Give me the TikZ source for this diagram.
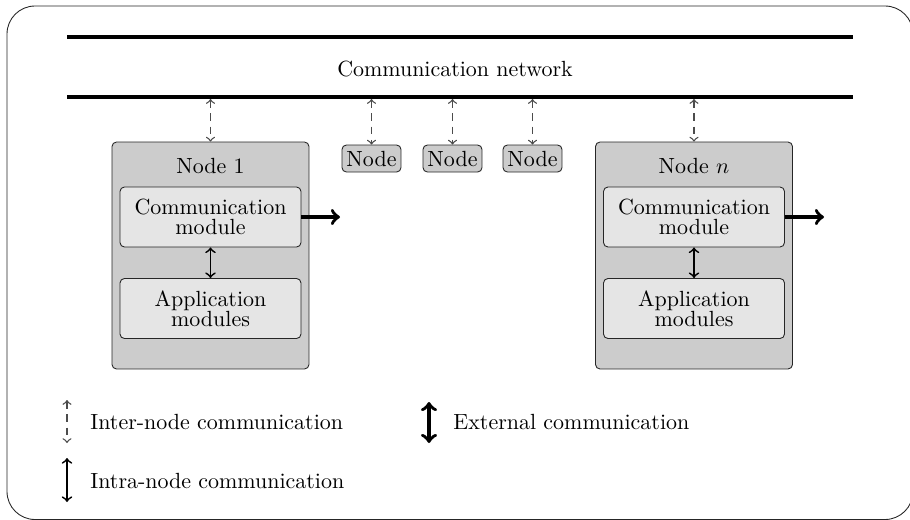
\documentclass[tikz,border=0pt]{standalone}
\usepackage{amsmath}
\usetikzlibrary{positioning}

\tikzset{
  hostbox/.style={draw=black!85, fill=black!20, rounded corners=2pt,
    minimum width=3.152cm, minimum height=3.632cm},
  modbox/.style={draw=black!85, fill=black!10, rounded corners=2pt, align=center,
    inner sep=1pt, minimum width=2.896cm, minimum height=0.96cm},
  peerbox/.style={draw=black!85, fill=black!20, rounded corners=2pt,
    inner sep=1pt, minimum width=0.944cm, minimum height=0.432cm},
  interlink/.style={<->, semithick, dash pattern=on 3.5pt off 2.5pt, black!70},
  intralink/.style={<->, thick},
  extlink/.style={->, ultra thick},
  bus/.style={line width=1.8pt},
}

\begin{document}
\begin{tikzpicture}[x=0.016cm, y=-0.016cm]
\useasboundingbox (0,0) rectangle (910,519);
\draw[black!85, rounded corners=12.75pt] (7,6) rectangle (913,519.5);

% network
\coordinate (busTL) at (67,37);
\coordinate (busTR) at (853,37);
\coordinate (busBL) at (67,97);
\coordinate (busBR) at (853,97);
\coordinate (busB) at (67,99);
\draw[bus] (busTL) -- (busTR);
\draw[bus] (busBL) -- (busBR);
\node (net) at (455,69) {Communication network};

% node 1
\node[hostbox] (host1) at (210.5,255.5) {};
\node (host1lbl) at (210.5,166) {Node 1};
\node[modbox] (comm1) at (210.5,217) {Communication\\[-3pt]module};
\node[modbox] (app1) at (210.5,308.5) {Application\\[-3pt]modules};
\coordinate (out1) at (340,217);
\draw[intralink] (comm1) -- (app1);
\draw[extlink] (comm1.east) -- (out1);
\draw[interlink] (busB -| host1.north) -- (host1.north);

% other nodes
\foreach \name/\x in {peerA/371.5, peerB/452.5, peerC/532.5} {
  \node[peerbox] (\name) at (\x,158.5) {Node};
  \draw[interlink] (busB -| \name.north) -- (\name.north);
}

% node n
\node[hostbox] (hostn) at (694,255.5) {};
\node (hostnlbl) at (694,166) {Node $n$};
\node[modbox] (commn) at (694,217) {Communication\\[-3pt]module};
\node[modbox] (appn) at (694,308.5) {Application\\[-3pt]modules};
\coordinate (outn) at (824,217);
\draw[intralink] (commn) -- (appn);
\draw[extlink] (commn.east) -- (outn);
\draw[interlink] (busB -| hostn.north) -- (hostn.north);

% legend
\coordinate (interA) at (67,400);
\coordinate (interB) at (67,443);
\coordinate (intraA) at (67,458);
\coordinate (intraB) at (67,502);
\coordinate (extA) at (429,402);
\coordinate (extB) at (429,443);
\draw[interlink] (interA) -- (interB);
\draw[intralink] (intraA) -- (intraB);
\draw[extlink, <->] (extA) -- (extB);
\node[anchor=west, inner sep=0] (interlbl) at (90,422) {Inter-node communication};
\node[anchor=west, inner sep=0] (intralbl) at (90,481) {Intra-node communication};
\node[anchor=west, inner sep=0] (extlbl) at (453,422) {External communication};
\end{tikzpicture}
\end{document}
